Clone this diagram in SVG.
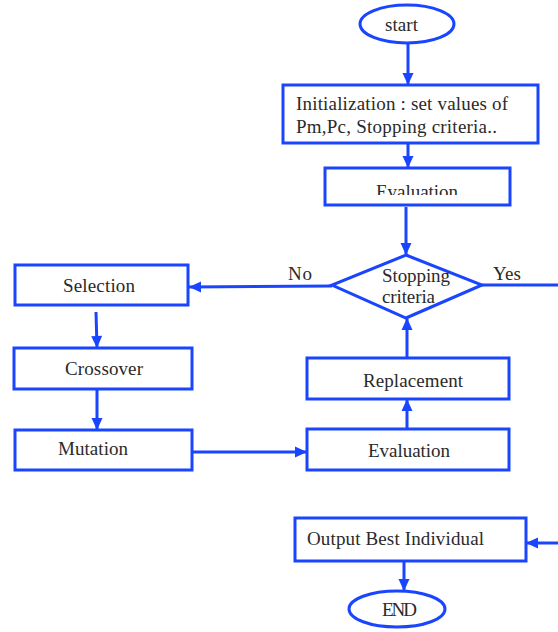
<svg xmlns="http://www.w3.org/2000/svg" width="558" height="632" viewBox="0 0 558 632">
<style>
.n{fill:#fff;stroke:#1a45ff;stroke-width:3}
.c{fill:none;stroke:#1a45ff;stroke-width:3}
text{font-family:"Liberation Serif","Times New Roman",serif;font-size:19px;fill:#2a2a2a}
</style>
<defs>
<marker id="a" markerUnits="userSpaceOnUse" markerWidth="14" markerHeight="14" viewBox="0 0 14 14" refX="13" refY="7" orient="auto">
<path d="M1,1.5 L13,7 L1,12.5 Z" fill="#1a45ff"/>
</marker>
<clipPath id="cl"><rect x="330" y="170" width="175" height="25"/></clipPath>
</defs>
<rect width="558" height="632" fill="#fff"/>
<g id="connectors">
<line class="c" x1="408" y1="43" x2="408" y2="85" marker-end="url(#a)"/>
<line class="c" x1="408" y1="143" x2="408" y2="168" marker-end="url(#a)"/>
<line class="c" x1="406" y1="207" x2="406" y2="255" marker-end="url(#a)"/>
<line class="c" x1="332" y1="286" x2="189" y2="287" marker-end="url(#a)"/>
<line class="c" x1="482" y1="285" x2="558" y2="285"/>
<line class="c" x1="96" y1="312" x2="97" y2="348" marker-end="url(#a)"/>
<line class="c" x1="97" y1="389" x2="97" y2="430" marker-end="url(#a)"/>
<line class="c" x1="192" y1="452" x2="307" y2="452" marker-end="url(#a)"/>
<line class="c" x1="407" y1="429" x2="407" y2="399" marker-end="url(#a)"/>
<line class="c" x1="407" y1="358" x2="407" y2="318" marker-end="url(#a)"/>
<line class="c" x1="558" y1="543" x2="526" y2="543" marker-end="url(#a)"/>
<line class="c" x1="404" y1="561" x2="404" y2="591" marker-end="url(#a)"/>
<text x="288" y="280" textLength="24">No</text>
<text x="493" y="280" textLength="28">Yes</text>
</g>
<g id="start">
<ellipse class="n" cx="407" cy="24" rx="47" ry="19"/>
<text x="385" y="31" textLength="33">start</text>
</g>
<g id="init">
<rect class="n" x="283" y="85" width="255" height="58"/>
<text x="296" y="110" textLength="212">Initialization : set values of</text>
<text x="296" y="133" textLength="201">Pm,Pc, Stopping criteria..</text>
</g>
<g id="evaluation1">
<rect class="n" x="325" y="168" width="185" height="37"/>
<text x="376" y="198" textLength="82" clip-path="url(#cl)">Evaluation</text>
</g>
<g id="stopping">
<polygon class="n" points="406,255 482,285 406,318 332,285"/>
<text x="382" y="282" textLength="68">Stopping</text>
<text x="382" y="303" textLength="53">criteria</text>
</g>
<g id="selection">
<rect class="n" x="15" y="265" width="173" height="40"/>
<text x="63" y="292" textLength="72">Selection</text>
</g>
<g id="crossover">
<rect class="n" x="14" y="348" width="178" height="41"/>
<text x="65" y="375" textLength="78">Crossover</text>
</g>
<g id="mutation">
<rect class="n" x="15" y="430" width="177" height="40"/>
<text x="58" y="455" textLength="70">Mutation</text>
</g>
<g id="evaluation2">
<rect class="n" x="307" y="429" width="202" height="41"/>
<text x="368" y="457" textLength="82">Evaluation</text>
</g>
<g id="replacement">
<rect class="n" x="307" y="358" width="202" height="41"/>
<text x="363" y="387" textLength="100">Replacement</text>
</g>
<g id="output">
<rect class="n" x="295" y="518" width="231" height="43"/>
<text x="307" y="545" textLength="177">Output Best Individual</text>
</g>
<g id="end">
<ellipse class="n" cx="397" cy="609" rx="48" ry="18"/>
<text x="382" y="616" textLength="35">END</text>
</g>
</svg>
